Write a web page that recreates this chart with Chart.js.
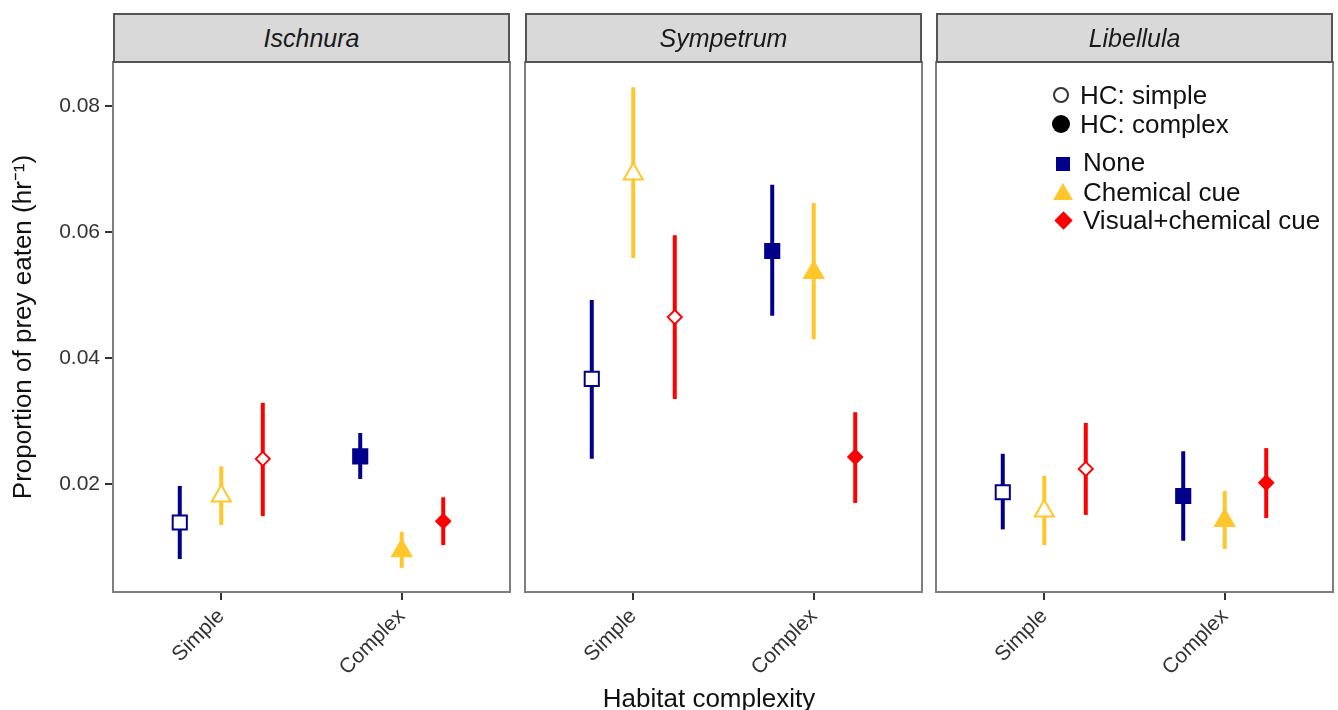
<!DOCTYPE html>
<html>
<head>
<meta charset="utf-8">
<script src="https://cdn.jsdelivr.net/npm/chart.js@4.4.0/dist/chart.umd.min.js"></script>
<style>
  body { margin: 0; background: #fff; font-family: "Liberation Sans", Arial, sans-serif; }
  #wrap { position: relative; width: 1338px; height: 710px; overflow: hidden; }
  canvas { position: absolute; }
  .strip { position: absolute; top: 13px; width: 397px; height: 50px; box-sizing: border-box;
    background: #d9d9d9; border: 2px solid #555; font-style: italic; font-size: 25px;
    color: #1a1a1a; text-align: center; line-height: 46px; }
  .xtitle { position: absolute; top: 683px; left: 709px; transform: translateX(-50%);
    font-size: 26px; color: #111; white-space: nowrap; }
  .lg { position: absolute; font-size: 26px; color: #111; white-space: nowrap; line-height: 30px; }
  .sym { position: absolute; box-sizing: border-box; }
</style>
</head>
<body>
<div id="wrap">
  <canvas id="p0" width="512" height="650" style="left:0px;top:60px"></canvas>
  <canvas id="p1" width="401" height="650" style="left:523px;top:60px"></canvas>
  <canvas id="p2" width="401" height="650" style="left:934px;top:60px"></canvas>
  <div class="strip" id="s0" style="left:113px"></div>
  <div class="strip" id="s1" style="left:525px"></div>
  <div class="strip" id="s2" style="left:936px"></div>
  <div class="xtitle">Habitat complexity</div>

  <!-- legend inside the Libellula panel -->
  <div class="sym" style="left:1053px;top:87px;width:16px;height:16px;border:2px solid #333;border-radius:50%"></div>
  <div class="lg" style="left:1080px;top:80px">HC: simple</div>
  <div class="sym" style="left:1052px;top:115px;width:18px;height:18px;background:#000;border-radius:50%"></div>
  <div class="lg" style="left:1080px;top:109px">HC: complex</div>
  <div class="sym" style="left:1056px;top:157px;width:14px;height:14px;background:#00008b"></div>
  <div class="lg" style="left:1083px;top:147px">None</div>
  <div class="sym" style="left:1053px;top:183px;width:0;height:0;border-left:10px solid transparent;border-right:10px solid transparent;border-bottom:17px solid #ffc72c"></div>
  <div class="lg" style="left:1083px;top:177px">Chemical cue</div>
  <div class="sym" style="left:1057px;top:214px;width:13px;height:13px;background:#ff0000;transform:rotate(45deg)"></div>
  <div class="lg" style="left:1083px;top:205px">Visual+chemical cue</div>
</div>

<script>
const species = ['Ischnura', 'Sympetrum', 'Libellula'];
const habitats = ['Simple', 'Complex'];
const cues = ['None', 'Chemical cue', 'Visual+chemical cue'];
const yTicks = [0.02, 0.04, 0.06, 0.08];

// rows = cue (none, chemical, visual+chemical), cols = habitat (simple, complex)
const ischnuraMean = [[0.0139, 0.0244], [0.0181, 0.0094], [0.0240, 0.0141]];
const ischnuraLow  = [[0.0081, 0.0208], [0.0135, 0.0067], [0.0149, 0.0103]];
const ischnuraHigh = [[0.0197, 0.0281], [0.0228, 0.0124], [0.0329, 0.0179]];

const sympetrumMean = [[0.0367, 0.0570], [0.0692, 0.0536], [0.0465, 0.0243]];
const sympetrumLow  = [[0.0240, 0.0467], [0.0559, 0.0430], [0.0335, 0.0170]];
const sympetrumHigh = [[0.0492, 0.0675], [0.0830, 0.0646], [0.0595, 0.0314]];

const libellulaMean = [[0.0187, 0.0181], [0.0157, 0.0142], [0.0224, 0.0202]];
const libellulaLow  = [[0.0128, 0.0110], [0.0103, 0.0097], [0.0151, 0.0146]];
const libellulaHigh = [[0.0248, 0.0252], [0.0213, 0.0189], [0.0297, 0.0257]];

const Y_MIN = 0.00286, Y_MAX = 0.087;
const DODGE = [-0.23, 0, 0.23];
const cueColors = ['#00008b', '#ffc72c', '#ff0000'];
const cueShapes = ['rect', 'triangle', 'rectRot'];
const cueSizes = [10, 11, 7];

Chart.defaults.font.family = '"Liberation Sans", Arial, sans-serif';

const panelBorder = {
  id: 'panelBorder',
  afterDraw(chart) {
    const { ctx, chartArea: a } = chart;
    ctx.save();
    ctx.strokeStyle = '#7f7f7f';
    ctx.lineWidth = 2;
    ctx.strokeRect(a.left, a.top, a.right - a.left, a.bottom - a.top);
    ctx.restore();
  }
};

function makePanel(i, mean, low, high) {
  const first = i === 0;
  document.getElementById('s' + i).textContent = species[i];

  const datasets = [];
  cues.forEach((cue, c) => {
    habitats.forEach((h, k) => {
      const x = k + 1 + DODGE[c];
      datasets.push({
        data: [{ x: x, y: low[c][k] }, { x: x, y: high[c][k] }],
        showLine: true,
        borderColor: cueColors[c],
        borderWidth: 4,
        pointRadius: 0,
        order: 2
      });
    });
    datasets.push({
      label: cue,
      data: habitats.map((h, k) => ({ x: k + 1 + DODGE[c], y: mean[c][k] })),
      pointStyle: cueShapes[c],
      pointRadius: cueSizes[c],
      pointBackgroundColor: ['#ffffff', cueColors[c]],
      pointBorderColor: cueColors[c],
      pointBorderWidth: 2,
      order: 1
    });
  });

  new Chart(document.getElementById('p' + i), {
    type: 'scatter',
    data: { datasets: datasets },
    options: {
      responsive: false,
      animation: false,
      layout: { autoPadding: false, padding: { left: first ? 0 : 2, right: 2, top: 2, bottom: 0 } },
      plugins: { legend: { display: false }, tooltip: { enabled: false } },
      scales: {
        x: {
          type: 'linear',
          min: 0.4,
          max: 2.6,
          afterBuildTicks: s => { s.ticks = habitats.map((h, k) => ({ value: k + 1 })); },
          afterFit: s => { s.height = 118; s.paddingLeft = 0; s.paddingRight = 0; },
          ticks: {
            callback: v => habitats[v - 1],
            minRotation: 45,
            maxRotation: 45,
            padding: 4,
            color: '#333',
            font: { size: 21 }
          },
          grid: { drawOnChartArea: false, drawTicks: true, tickLength: 8, color: '#333', lineWidth: 2 },
          border: { display: false }
        },
        y: {
          display: first,
          min: Y_MIN,
          max: Y_MAX,
          afterBuildTicks: s => { s.ticks = yTicks.map(v => ({ value: v })); },
          afterFit: s => { s.width = first ? 113 : 0; s.paddingTop = 0; s.paddingBottom = 0; },
          ticks: {
            callback: v => v.toFixed(2),
            padding: 5,
            color: '#333',
            font: { size: 21 }
          },
          grid: { drawOnChartArea: false, drawTicks: true, tickLength: 8, color: '#333', lineWidth: 2 },
          border: { display: false },
          title: {
            display: true,
            text: 'Proportion of prey eaten (hr\u207B\u00B9)',
            color: '#111',
            font: { size: 26 },
            padding: { top: 8, bottom: 0 }
          }
        }
      }
    },
    plugins: [panelBorder]
  });
}

makePanel(0, ischnuraMean, ischnuraLow, ischnuraHigh);
makePanel(1, sympetrumMean, sympetrumLow, sympetrumHigh);
makePanel(2, libellulaMean, libellulaLow, libellulaHigh);
</script>
</body>
</html>
